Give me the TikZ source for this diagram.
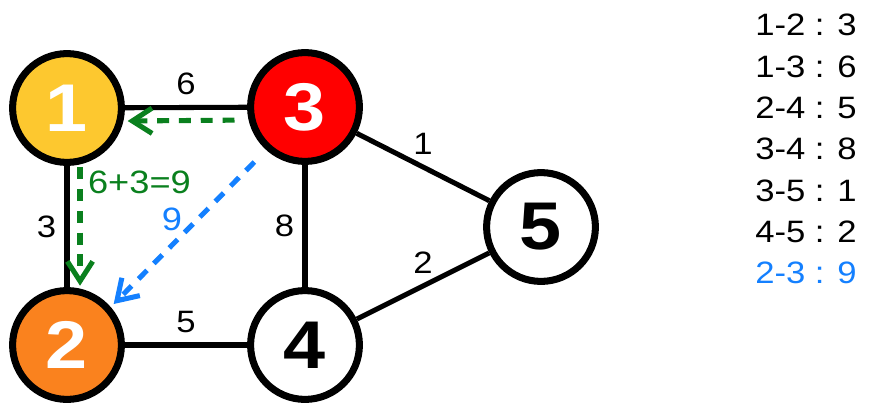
\documentclass[tikz,border=0pt]{standalone}
\usepackage{fontspec}
\setmainfont{Liberation Sans}[FakeStretch=1.12]
\usepackage{tikz}
\usetikzlibrary{arrows.meta}
\definecolor{amarelo}{RGB}{253,200,47}
\definecolor{laranja}{RGB}{250,130,30}
\definecolor{vermelho}{RGB}{255,0,0}
\definecolor{verde}{RGB}{10,128,30}
\definecolor{azul}{RGB}{20,128,255}

\begin{document}
\begin{tikzpicture}[
    x=0.025cm, y=-0.025cm,
    vertice/.style={circle, draw=black, line width=5pt, minimum size=2.72cm, inner sep=0pt, font=\fontsize{48}{48}\selectfont\bfseries},
    aresta/.style={line width=3.6pt, black},
    rotulo/.style={font=\fontsize{22}{22}\selectfont, inner sep=2pt},
    seta/.style={-{Straight Barb[length=14pt, width=18pt]}, line width=3.6pt, dash pattern=on 8.5pt off 7pt},
    setaVerde/.style={seta, verde},
    setaAzul/.style={seta, azul}
  ]
    \useasboundingbox (0,0) rectangle (872,414);
    % vertices
    \node[vertice, fill=amarelo, text=white] (n1) at (67,108) {1};
    \node[vertice, fill=laranja, text=white] (n2) at (67,345) {2};
    \node[vertice, fill=vermelho, text=white] (n3) at (305,107) {3};
    \node[vertice, fill=white] (n4) at (305,345) {4};
    \node[vertice, fill=white] (n5) at (541,227) {5};
    % arestas
    \draw[aresta] (n1) -- node[rotulo, midway, above=5pt] (p13) {6} (n3);
    \draw[aresta] (n1) -- node[rotulo, midway, left=4pt] (p12) {3} (n2);
    \draw[aresta] (n2) -- node[rotulo, midway, above=5pt] (p24) {5} (n4);
    \draw[aresta] (n3) -- node[rotulo, midway, left=4pt] (p34) {8} (n4);
    \draw[aresta] (n3) -- node[rotulo, midway, above=5pt] (p35) {1} (n5);
    \draw[aresta] (n4) -- node[rotulo, midway, above=5pt] (p45) {2} (n5);
    % caminho novo
    \draw[setaVerde, shorten <=10pt, shorten >=3pt] (n3.193) -- (n1.-13);
    \draw[setaVerde, shorten <=2pt, shorten >=2pt] (n1.-77) -- (n2.77);
    \draw[setaAzul, shorten <=12pt, shorten >=3pt] (n3.228) -- (n2.41);
    \node[rotulo, text=verde, anchor=west, font=\fontsize{23}{23}\selectfont] (soma) at (85,182) {6+3=9};
    \node[rotulo, text=azul, font=\fontsize{23}{23}\selectfont] (pesoAzul) at (172,219) {9};
    % lista de pesos
    \node[anchor=north west, align=left, inner sep=0pt, font=\fontsize{22}{29.4}\selectfont] (lista) at (755,14)
      {1-2 : 3\\1-3 : 6\\2-4 : 5\\3-4 : 8\\3-5 : 1\\4-5 : 2\\\textcolor{azul}{2-3 : 9}};
  \end{tikzpicture}
\end{document}
